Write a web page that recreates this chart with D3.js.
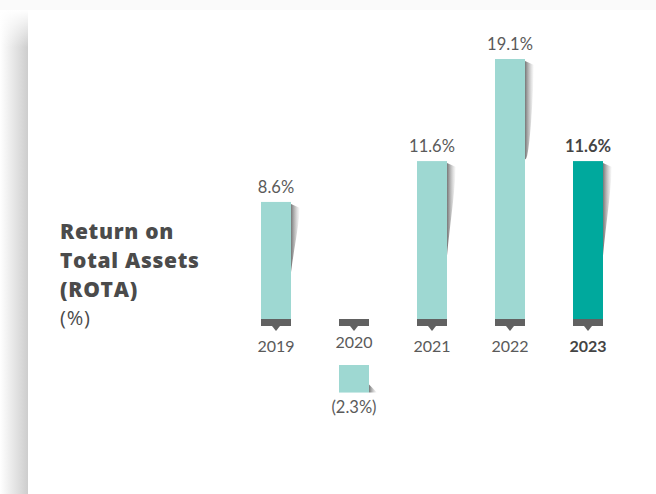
<!DOCTYPE html>
<html><head><meta charset="utf-8">
<script src="https://cdn.jsdelivr.net/npm/d3@7"></script>
<style>html,body{margin:0;padding:0;background:#fff;}svg{display:block;}</style>
</head><body>
<script>
const years = ["2019","2020","2021","2022","2023"];
const values = [8.6, -2.3, 11.6, 19.1, 11.6];
const valueLabels = ["8.6%","(2.3%)","11.6%","19.1%","11.6%"];
const titleLines = ["Return on","Total Assets","(ROTA)"];
const unitLabel = "(%)";

const W = 656, H = 494;
const svg = d3.select("body").append("svg").attr("width", W).attr("height", H);
const defs = svg.append("defs");

const lg = defs.append("linearGradient").attr("id","leftShadow").attr("x1",0).attr("x2",1).attr("y1",0).attr("y2",0);
lg.append("stop").attr("offset","0%").attr("stop-color","#ffffff");
lg.append("stop").attr("offset","100%").attr("stop-color","#cdcdcd");
const vmask = defs.append("linearGradient").attr("id","vfade").attr("x1",0).attr("x2",0).attr("y1",0).attr("y2",1);
vmask.append("stop").attr("offset","0%").attr("stop-color","#fff").attr("stop-opacity",1);
vmask.append("stop").attr("offset","25%").attr("stop-color","#fff").attr("stop-opacity",0);
svg.append("rect").attr("x",0).attr("y",0).attr("width",W).attr("height",10).attr("fill","#fafafa");
svg.append("rect").attr("x",0).attr("y",10).attr("width",28).attr("height",H-10).attr("fill","url(#leftShadow)");
svg.append("rect").attr("x",0).attr("y",10).attr("width",28).attr("height",150).attr("fill","url(#vfade)");
svg.append("rect").attr("x",28).attr("y",10).attr("width",W-28).attr("height",H-10).attr("fill","#fff");

const sg = defs.append("linearGradient").attr("id","barShadow").attr("x1",0).attr("x2",1).attr("y1",0).attr("y2",0);
sg.append("stop").attr("offset","0%").attr("stop-color","#5f5f5f").attr("stop-opacity",0.85);
sg.append("stop").attr("offset","100%").attr("stop-color","#9a9a9a").attr("stop-opacity",0);

const x2 = d3.scalePoint().domain(years).range([276, 588]);
const bw = 30;
const y0 = 319;
const y = d3.scaleLinear().domain([0, 19.1]).range([y0, 59]);
const k = y0 - y(1);

const g = svg.append("g");
const colors = years.map((d,i)=> i === years.length-1 ? "#00a99d" : "#9ed8d2");
const valFont = "Lato, 'Open Sans', sans-serif";

years.forEach((yr,i)=>{
  const cx = x2(yr), v = values[i];
  const last = i === years.length-1;
  if (v >= 0) {
    const top = y(v), h = y0 - top;
    g.append("path")
      .attr("d", `M${cx+bw/2},${top+2} L${cx+bw/2+9},${top+6} C${cx+bw/2+7},${top+h*0.25} ${cx+bw/2+3},${top+h*0.4} ${cx+bw/2},${top+Math.min(h*0.6,100)} Z`)
      .attr("fill","url(#barShadow)");
    g.append("rect").attr("x",cx-bw/2).attr("y",top).attr("width",bw).attr("height",h).attr("fill",colors[i]);
    g.append("text").attr("x",cx).attr("y",top-9).attr("text-anchor","middle")
      .attr("font-family",valFont).attr("font-size",16.5)
      .attr("font-weight", last?700:400).attr("fill", last?"#444":"#5a5a5a").text(valueLabels[i]);
  } else {
    const top = 365, h = k * (-v) * 0.88;
    g.append("path")
      .attr("d", `M${cx+bw/2},${top+h-8} L${cx+bw/2+8},${top+h} L${cx+bw/2},${top+h} Z`)
      .attr("fill","url(#barShadow)");
    g.append("rect").attr("x",cx-bw/2).attr("y",top).attr("width",bw).attr("height",h).attr("fill",colors[i]);
    g.append("text").attr("x",cx).attr("y",413).attr("text-anchor","middle")
      .attr("font-family",valFont).attr("font-size",16.5)
      .attr("font-weight",400).attr("fill","#5a5a5a").text(valueLabels[i]);
  }
  g.append("rect").attr("x",cx-bw/2).attr("y",y0).attr("width",bw).attr("height",7).attr("fill","#616161");
  g.append("path").attr("d",`M${cx-4},${y0+7} L${cx+4},${y0+7} L${cx},${y0+12} Z`).attr("fill","#616161");
  g.append("text").attr("x",cx).attr("y", v<0 ? 348 : 352).attr("text-anchor","middle")
    .attr("font-family",valFont).attr("font-size",16)
    .attr("font-weight", last?700:400).attr("fill", last?"#444":"#5a5a5a").text(yr);
});

const tg = svg.append("g");
titleLines.forEach((t,i)=>{
  tg.append("text").attr("x",60).attr("y",239+i*29).attr("font-family","'Open Sans', sans-serif")
    .attr("font-size",21).attr("font-weight",800).attr("letter-spacing",0.7).attr("fill","#4b4b4b").text(t);
});
tg.append("text").attr("x",60).attr("y",325).attr("font-family","'Open Sans', sans-serif")
  .attr("font-size",20).attr("font-weight",400).attr("letter-spacing",0.8).attr("fill","#4b4b4b").text(unitLabel);
</script>
</body></html>
